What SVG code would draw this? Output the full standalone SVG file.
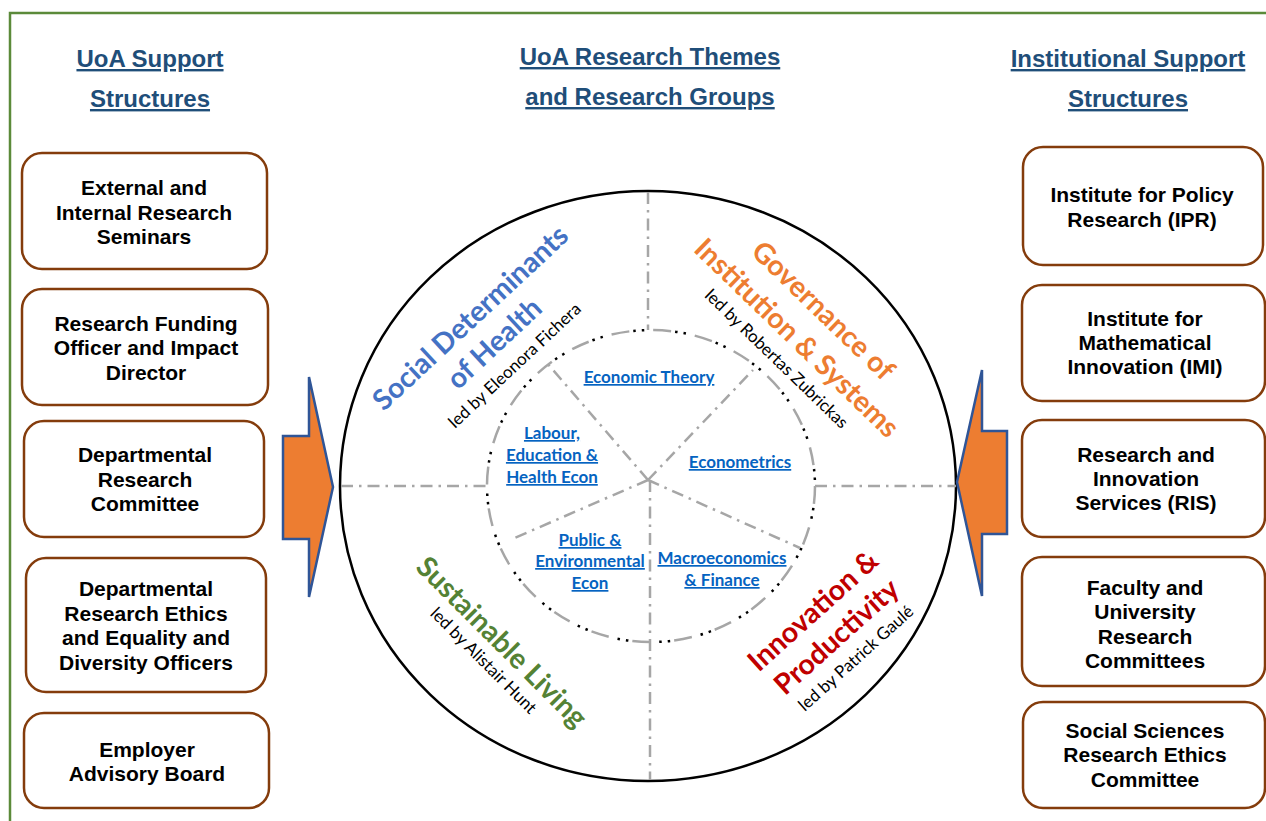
<svg xmlns="http://www.w3.org/2000/svg" width="1266" height="821" viewBox="0 0 1266 821">
  <style>
    .frame { fill: none; stroke: #5B8A3A; stroke-width: 2.5; }
    .box { fill: #FFFFFF; stroke: #843C0C; stroke-width: 2.5; }
    .boxtxt { font-family: "Liberation Sans", Arial, sans-serif; font-weight: bold; font-size: 21px; fill: #000000; text-anchor: middle; }
    .head { font-family: "Liberation Sans", Arial, sans-serif; font-weight: bold; font-size: 24px; fill: #1F4E79; text-anchor: middle; text-decoration: underline; }
    .group { font-family: Lato, "Open Sans", sans-serif; font-weight: bold; font-size: 17px; fill: #0563C1; text-anchor: middle; text-decoration: underline; }
    .theme { font-family: Lato, "Open Sans", sans-serif; font-weight: bold; font-size: 28.5px; text-anchor: middle; }
    .lead { font-family: Lato, "Open Sans", sans-serif; font-size: 17px; fill: #000000; text-anchor: middle; }
    .spoke { fill: none; stroke: #A6A6A6; stroke-width: 2.5; stroke-dasharray: 12 6 2.5 6; }
    .arrow { fill: #ED7D31; stroke: #2F5597; stroke-width: 2.5; stroke-linejoin: miter; }
  </style>

  <!-- page frame (top and left rules) -->
  <path class="frame" d="M10,821 L10,13 L1266,13"/>

  <!-- column headings -->
  <g id="heading-left">
    <text class="head" x="150" y="67">UoA Support</text>
    <text class="head" x="150" y="107">Structures</text>
  </g>
  <g id="heading-centre">
    <text class="head" x="650" y="65">UoA Research Themes</text>
    <text class="head" x="650" y="105">and Research Groups</text>
  </g>
  <g id="heading-right">
    <text class="head" x="1128" y="67">Institutional Support</text>
    <text class="head" x="1128" y="107">Structures</text>
  </g>

  <!-- UoA support structures -->
  <g id="seminars">
    <rect class="box" x="22" y="153" width="245" height="116" rx="20"/>
    <text class="boxtxt" x="144" y="195">External and</text>
    <text class="boxtxt" x="144" y="220">Internal Research</text>
    <text class="boxtxt" x="144" y="244">Seminars</text>
  </g>
  <g id="funding-officer">
    <rect class="box" x="22" y="289" width="246" height="116" rx="20"/>
    <text class="boxtxt" x="146" y="331">Research Funding</text>
    <text class="boxtxt" x="146" y="355">Officer and Impact</text>
    <text class="boxtxt" x="146" y="380">Director</text>
  </g>
  <g id="dept-research-committee">
    <rect class="box" x="24" y="421" width="240" height="116" rx="20"/>
    <text class="boxtxt" x="145" y="462">Departmental</text>
    <text class="boxtxt" x="145" y="487">Research</text>
    <text class="boxtxt" x="145" y="511">Committee</text>
  </g>
  <g id="ethics-edi-officers">
    <rect class="box" x="26" y="558" width="240" height="134" rx="20"/>
    <text class="boxtxt" x="146" y="596">Departmental</text>
    <text class="boxtxt" x="146" y="621">Research Ethics</text>
    <text class="boxtxt" x="146" y="645">and Equality and</text>
    <text class="boxtxt" x="146" y="670">Diversity Officers</text>
  </g>
  <g id="employer-board">
    <rect class="box" x="24" y="713" width="245" height="95" rx="20"/>
    <text class="boxtxt" x="147" y="757">Employer</text>
    <text class="boxtxt" x="147" y="781">Advisory Board</text>
  </g>

  <!-- institutional support structures -->
  <g id="ipr">
    <rect class="box" x="1023" y="147" width="240" height="118" rx="20"/>
    <text class="boxtxt" x="1142" y="202">Institute for Policy</text>
    <text class="boxtxt" x="1142" y="227">Research (IPR)</text>
  </g>
  <g id="imi">
    <rect class="box" x="1022" y="285" width="243" height="116" rx="20"/>
    <text class="boxtxt" x="1145" y="326">Institute for</text>
    <text class="boxtxt" x="1145" y="350">Mathematical</text>
    <text class="boxtxt" x="1145" y="374">Innovation (IMI)</text>
  </g>
  <g id="ris">
    <rect class="box" x="1022" y="420" width="243" height="117" rx="20"/>
    <text class="boxtxt" x="1146" y="462">Research and</text>
    <text class="boxtxt" x="1146" y="486">Innovation</text>
    <text class="boxtxt" x="1146" y="510">Services (RIS)</text>
  </g>
  <g id="faculty-committees">
    <rect class="box" x="1022" y="557" width="243" height="129" rx="20"/>
    <text class="boxtxt" x="1145" y="595">Faculty and</text>
    <text class="boxtxt" x="1145" y="619">University</text>
    <text class="boxtxt" x="1145" y="644">Research</text>
    <text class="boxtxt" x="1145" y="668">Committees</text>
  </g>
  <g id="ss-ethics-committee">
    <rect class="box" x="1023" y="702" width="242" height="106" rx="20"/>
    <text class="boxtxt" x="1145" y="738">Social Sciences</text>
    <text class="boxtxt" x="1145" y="762">Research Ethics</text>
    <text class="boxtxt" x="1145" y="787">Committee</text>
  </g>

  <!-- research themes wheel -->
  <g id="wheel">
    <ellipse cx="648" cy="486" rx="308" ry="295" fill="#FFFFFF" stroke="#000000" stroke-width="2.5"/>
    <!-- inner ring: grey dashes with two black dots in each gap (same 42px period) -->
    <ellipse cx="651" cy="486" rx="164" ry="156" fill="none" stroke="#A6A6A6" stroke-width="2.5" stroke-dasharray="18 24"/>
    <ellipse cx="651" cy="486" rx="164" ry="156" fill="none" stroke="#000000" stroke-width="2.5" stroke-dasharray="0 22 2.5 6 2.5 9"/>
  </g>

  <!-- theme dividers and group dividers -->
  <g id="connectors">
    <line class="spoke" x1="648" y1="192" x2="648" y2="330"/>
    <line class="spoke" x1="341" y1="486" x2="487" y2="486"/>
    <line class="spoke" x1="815" y1="486" x2="956" y2="486"/>
    <line class="spoke" x1="650" y1="480" x2="650" y2="780"/>
    <line class="spoke" x1="648" y1="480" x2="547" y2="363"/>
    <line class="spoke" x1="648" y1="480" x2="753" y2="370"/>
    <line class="spoke" x1="648" y1="480" x2="800" y2="548"/>
    <line class="spoke" x1="648" y1="480" x2="510" y2="540"/>
    <polygon id="arrow-left" class="arrow" points="283,436 309,436 309,377 333,487 309,597 309,539 283,539"/>
    <polygon id="arrow-right" class="arrow" points="1007,431 982,431 982,370 957,482 982,596 982,534 1007,534"/>
  </g>

  <!-- research groups -->
  <g id="economic-theory"><text class="group" x="649" y="383">Economic Theory</text></g>
  <g id="econometrics"><text class="group" x="740" y="468">Econometrics</text></g>
  <g id="labour-education-health">
    <text class="group" x="552" y="439">Labour,</text>
    <text class="group" x="552" y="461">Education &amp;</text>
    <text class="group" x="552" y="483">Health Econ</text>
  </g>
  <g id="public-environmental">
    <text class="group" x="590" y="546">Public &amp;</text>
    <text class="group" x="590" y="567">Environmental</text>
    <text class="group" x="590" y="589">Econ</text>
  </g>
  <g id="macro-finance">
    <text class="group" x="722" y="564">Macroeconomics</text>
    <text class="group" x="722" y="586">&amp; Finance</text>
  </g>

  <!-- research themes -->
  <g id="theme-health" transform="translate(477,325) rotate(-43)">
    <text class="theme" fill="#4472C4" x="0" y="0">Social Determinants</text>
    <text class="theme" fill="#4472C4" x="0" y="35">of Health</text>
    <text class="lead" x="0" y="61">led by Eleonora Fichera</text>
  </g>
  <g id="theme-governance" transform="translate(790,345) rotate(44)">
    <text class="theme" fill="#ED7D31" x="0" y="-38">Governance of</text>
    <text class="theme" fill="#ED7D31" x="0" y="0">Institution &amp; Systems</text>
    <text class="lead" x="0" y="25">led by Robertas Zubrickas</text>
  </g>
  <g id="theme-sustainable" transform="translate(495,649) rotate(45)">
    <text class="theme" fill="#548235" x="0" y="0">Sustainable Living</text>
    <text class="lead" x="0" y="22">led by Alistair Hunt</text>
  </g>
  <g id="theme-innovation" transform="translate(843,644) rotate(-42)">
    <text class="theme" fill="#C00000" x="0" y="-35">Innovation &amp;</text>
    <text class="theme" fill="#C00000" x="0" y="0">Productivity</text>
    <text class="lead" x="0" y="25">led by Patrick Gaulé</text>
  </g>
</svg>
